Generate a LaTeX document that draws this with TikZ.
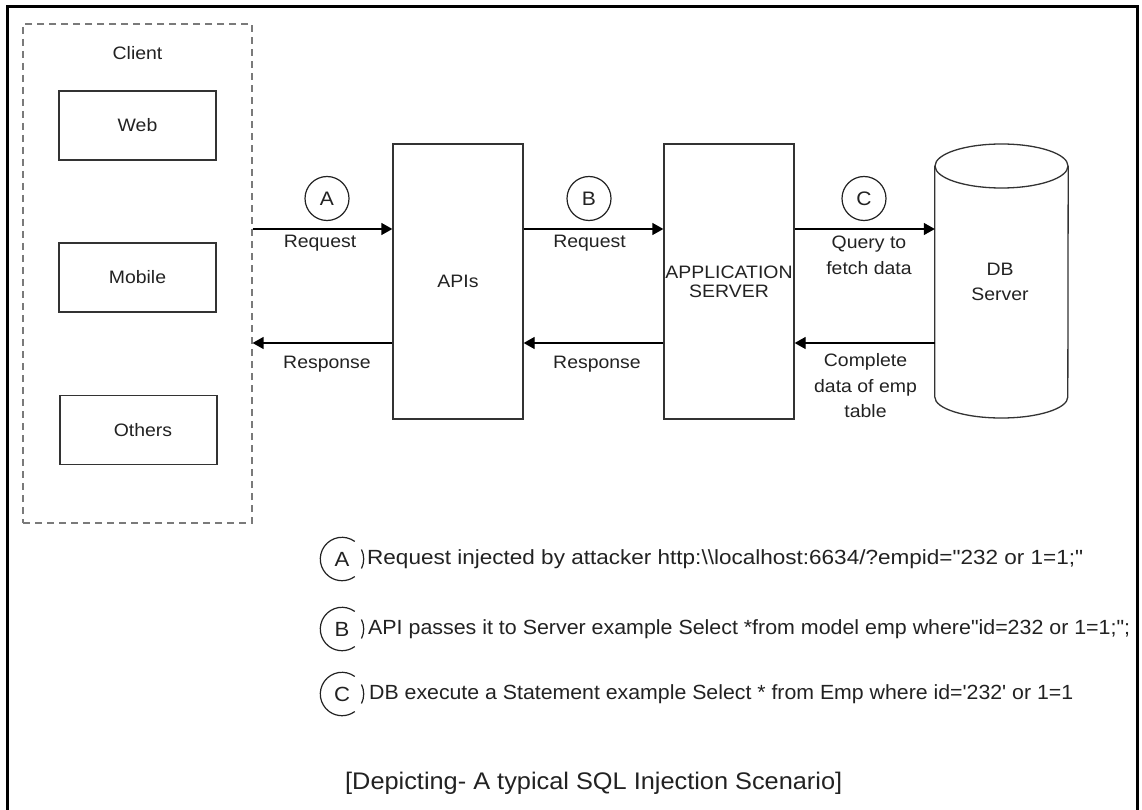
\documentclass[tikz,border=0pt]{standalone}
\usepackage{fontspec}
\usepackage{graphicx}
\setmainfont{Liberation Sans}
\newfontfamily\lab{Liberation Sans}[FakeStretch=1.08]
\newfontfamily\btm{Liberation Sans}
\usetikzlibrary{arrows.meta}
\definecolor{ink}{HTML}{222222}
\definecolor{edge}{HTML}{333333}
\definecolor{dashgray}{HTML}{7A7A7A}
\begin{document}
\begin{tikzpicture}[x=1pt,y=-1pt,
  box/.style={draw=edge, line width=1.3pt, rectangle, inner sep=0pt, minimum width=157pt, minimum height=69pt, font=\lab\fontsize{18}{22}\selectfont, text=ink},
  tallbox/.style={box, minimum width=130pt, minimum height=275pt, align=center},
  dashbox/.style={draw=dashgray, line width=1.2pt, dash pattern=on 7pt off 5pt, rectangle, inner sep=0pt, minimum width=229pt, minimum height=499pt},
  lbl/.style={font=\lab\fontsize{18}{25.5}\selectfont, text=ink, align=center, inner sep=0pt},
  circ/.style={circle, draw=ink, line width=1.2pt, minimum size=44pt, inner sep=0pt, font=\lab\fontsize{19.5}{22}\selectfont, text=ink},
  pcirc/.style={circle, draw=none, minimum size=43.4pt, inner sep=0pt, font=\lab\fontsize{20.5}{22}\selectfont, text=ink},
  arr/.style={draw=black, line width=1.3pt, -{Triangle[length=11pt,width=12pt]}},
  btxt/.style={anchor=west, inner sep=0pt, font=\btm\fontsize{20.5}{24}\selectfont, text=ink}
]
\useasboundingbox (0,0) rectangle (1142,810);
\fill[white] (0,0) rectangle (1142,810);
% outer frame (open at the bottom)
\draw[line width=3pt, black] (7,812) -- (7,7) -- (1137,7) -- (1137,812);

% client group
\node[dashbox] (client) at (137.5,273.5) {};
\node[lbl] (clientlbl) at (137.5,53) {Client};
\node[box] (web) at (137.5,125.5) {Web};
\node[box] (mobile) at (137.5,277.5) {Mobile};
\node[box] (others) at (138.5,430) {};
\node[lbl] (otherslbl) at (143,430) {Others};

% APIs and application server
\node[tallbox] (apis) at (458,281.5) {APIs};
\node[tallbox] (app) at (729,281.5) {APPLICATION\\[-3pt]SERVER};

% DB cylinder
\node[draw=none, minimum width=133pt, minimum height=253pt, inner sep=0pt] (db) at (1001.5,281.5) {};
\draw[draw=edge, line width=1.3pt] (db.west |- 0,166) -- (db.west |- 0,397)
  arc[start angle=180, end angle=360, x radius=66.5pt, y radius=21pt]
  -- (db.east |- 0,166);
\draw[draw=edge, line width=1.3pt] (1001.5,166) ellipse[x radius=66.5pt, y radius=22pt];
\node[lbl] (dblbl) at (1000,282) {DB\\[-1pt]Server};

% connector rows
\coordinate (ya) at (0,229);
\coordinate (yr) at (0,343);
\draw[arr] (client.east |- ya) -- (apis.west |- ya);
\draw[arr] (apis.west |- yr) -- (client.east |- yr);
\draw[arr] (apis.east |- ya) -- (app.west |- ya);
\draw[arr] (app.west |- yr) -- (apis.east |- yr);
\draw[arr] (app.east |- ya) -- (db.west |- ya);
\draw[arr] (db.west |- yr) -- (app.east |- yr);

% step markers on the connectors
\node[circ] (ma) at (327,198.5) {A};
\node[circ] (mb) at (589,198.5) {B};
\node[circ] (mc) at (864,198.5) {C};

% connector labels
\node[lbl] (req1) at (320,243) {Request};
\node[lbl] (resp1) at (327,364) {Response};
\node[lbl] (req2) at (589.5,243) {Request};
\node[lbl] (resp2) at (597,364) {Response};
\node[lbl] (query) at (869,255.5) {Query to\\fetch data};
\node[lbl] (complete) at (865.5,386) {Complete\\data of emp\\table};

% legend
\node[pcirc] (la) at (342,559) {A};
\node[pcirc] (lb) at (342,629) {B};
\node[pcirc] (lc) at (342,694) {C};
\foreach \c in {la,lb,lc}{
  \draw[draw=ink, line width=1.2pt] (\c.center) ++(54:21.7pt) arc[start angle=54, end angle=306, radius=21.7pt];
  \draw[draw=ink, line width=1.2pt] (\c.center) ++(-26:21.7pt) arc[start angle=-26, end angle=26, radius=21.7pt];
}
\node[btxt] (ta) at (367,559) {\resizebox{716pt}{\height}{Request injected by attacker http:\textbackslash\textbackslash localhost:6634/?empid="232 or 1=1;"}};
\node[btxt] (tb) at (368,629) {\resizebox{762pt}{\height}{API passes it to Server example Select *from model emp where"id=232 or 1=1;";}};
\node[btxt] (tc) at (369,694) {\resizebox{704pt}{\height}{DB execute a Statement example Select * from Emp where id='232' or 1=1}};

% caption
\node[btxt, font=\btm\fontsize{24}{28}\selectfont] (cap) at (345,783) {\resizebox{497pt}{\height}{[Depicting- A typical SQL Injection Scenario]}};
\end{tikzpicture}
\end{document}
